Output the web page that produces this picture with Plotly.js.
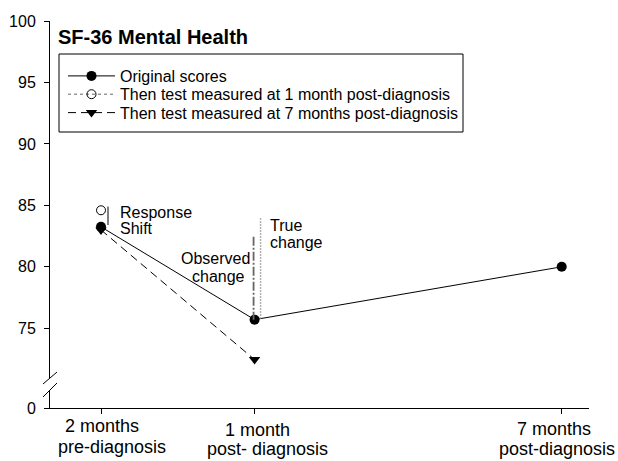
<!DOCTYPE html>
<html><head><meta charset="utf-8">
<script src="https://cdn.plot.ly/plotly-3.0.1.min.js"></script>
<style>html,body{margin:0;padding:0;background:#fff}#chart{width:618px;height:461px}</style>
</head><body><div id="chart"></div>
<script>
// ---- data ----
const timepoints = [-2, 1, 7];
const tickLabelLine1 = ['2 months', '1 month', '7 months'];
const tickLabelLine2 = ['pre-diagnosis', 'post- diagnosis', 'post-diagnosis'];
const originalScores = [83.25, 75.7, 80.0];
const thenTest1X = [-2];
const thenTest1Y = [84.6];
const thenTest7X = [-2, 1];
const thenTest7Y = [83.0, 72.45];
const yTickVals = [75, 80, 85, 90, 95, 100];
const yTickText = ['75', '80', '85', '90', '95', '100'];
const brokenAxisLabel = '0';
const observedChange = [82.45, 75.7];
const trueChange = [83.95, 75.7];
const responseShift = [84.9, 83.4];
const seriesNames = ['Original scores', 'Then test measured at 1 month post-diagnosis', 'Then test measured at 7 months post-diagnosis'];

// ---- layout helpers ----
const FONT = 'Liberation Sans, Arial, Helvetica, sans-serif';
const M = {l: 50, r: 29, t: 21, b: 53};
const PW = 618 - M.l - M.r, PH = 461 - M.t - M.b;
const pxPerUnit = 12.29, pxPerMonth = 51.19;
const yMax = 100, yMin = yMax - PH / pxPerUnit;
const xMin = -2 - 51 / pxPerMonth, xMax = xMin + PW / pxPerMonth;
const px = v => (v - M.l) / PW;
const py = v => (M.t + PH - v) / PH;

const traces = [
  {x: thenTest7X, y: thenTest7Y, name: seriesNames[2], mode: 'lines+markers', legend: 'legend3',
   line: {color: '#000', width: 1, dash: '8px,5px'},
   marker: {symbol: 'triangle-down', size: 10, color: '#000'}},
  {x: thenTest1X, y: thenTest1Y, name: seriesNames[1], mode: 'lines+markers', legend: 'legend2',
   line: {color: '#666', width: 1, dash: 'dot'},
   marker: {symbol: 'circle-open', size: 9, color: '#000', line: {width: 1, color: '#000'}}},
  {x: timepoints, y: originalScores, name: seriesNames[0], mode: 'lines+markers', legend: 'legend',
   line: {color: '#000', width: 1},
   marker: {symbol: 'circle', size: 10, color: '#000'}},
  {x: [timepoints[1] - 1 / pxPerMonth, timepoints[1] - 1 / pxPerMonth], y: observedChange, mode: 'lines', showlegend: false,
   line: {color: '#666', width: 1.8, dash: '9px,2px,2px,2px'}},
  {x: [timepoints[1] + 6 / pxPerMonth, timepoints[1] + 6 / pxPerMonth], y: trueChange, mode: 'lines', showlegend: false,
   line: {color: '#999', width: 1.5, dash: '1.5px,1.5px'}},
  {x: [timepoints[0] + 7 / pxPerMonth, timepoints[0] + 7 / pxPerMonth], y: responseShift, mode: 'lines', showlegend: false,
   line: {color: '#000', width: 1}}
];

const ann = [];
const l1y = [426, 430, 429], l2y = [447, 449, 449];
const l1s = [0.5, 3, -7.5], l2s = [10.5, 12.5, 0];
timepoints.forEach((t, i) => {
  ann.push({x: t, xref: 'x', xshift: l1s[i], y: py(l1y[i]), yref: 'paper', text: tickLabelLine1[i], showarrow: false, xanchor: 'center', yanchor: 'middle', font: {family: FONT, size: 18, color: '#000'}});
  const a2 = {x: t, xref: 'x', xshift: l2s[i], y: py(l2y[i]), yref: 'paper', text: tickLabelLine2[i], showarrow: false, xanchor: 'center', yanchor: 'middle', font: {family: FONT, size: 18, color: '#000'}};
  if (i === timepoints.length - 1) { a2.x = px(617); a2.xref = 'paper'; a2.xanchor = 'right'; a2.xshift = 0; }
  ann.push(a2);
});
const txt = (t, x, y, xa) => ({x: px(x), y: py(y), xref: 'paper', yref: 'paper', text: t, showarrow: false, xanchor: xa, yanchor: 'middle', font: {family: FONT, size: 16, color: '#000'}});
ann.push(txt('Response', 118, 212, 'left'));
ann.push(txt('Shift', 118, 228, 'left'));
ann.push(txt('True', 268, 225, 'left'));
ann.push(txt('change', 268, 242, 'left'));
ann.push(txt('Observed', 252, 258, 'right'));
ann.push(txt('change', 247, 276, 'right'));

const shapes = [
  {type: 'rect', xref: 'paper', yref: 'paper', x0: px(59), x1: px(463), y0: py(132), y1: py(54), line: {color: '#000', width: 1}},
  {type: 'rect', xref: 'paper', yref: 'paper', x0: px(46), x1: px(54), y0: py(390), y1: py(378), fillcolor: '#fff', line: {width: 0}, layer: 'above'},
  {type: 'line', xref: 'paper', yref: 'paper', x0: px(43), y0: py(384), x1: px(57), y1: py(372), line: {color: '#000', width: 1}},
  {type: 'line', xref: 'paper', yref: 'paper', x0: px(43), y0: py(397), x1: px(57), y1: py(383), line: {color: '#000', width: 1}}
];

const legendBase = c => ({x: px(63), y: py(c - 16), xanchor: 'left', yanchor: 'top', itemwidth: 47, borderwidth: 0,
  bgcolor: 'rgba(0,0,0,0)', font: {family: FONT, size: 16, color: '#000'}});

const layout = {
  width: 618, height: 461, margin: M,
  paper_bgcolor: '#fff', plot_bgcolor: '#fff',
  font: {family: FONT, color: '#000'},
  title: {text: '<b>SF-36 Mental Health</b>', font: {family: FONT, size: 20, color: '#000'},
          xref: 'container', x: 58 / 618, xanchor: 'left', y: 1 - 37 / 461, yanchor: 'middle'},
  xaxis: {range: [xMin, xMax], tickvals: timepoints, showticklabels: false, ticks: 'outside', ticklen: 5, tickcolor: '#000',
          showline: true, linecolor: '#000', linewidth: 1, showgrid: false, zeroline: false, fixedrange: true},
  yaxis: {range: [yMin, yMax], tickvals: [yMin].concat(yTickVals), ticktext: [brokenAxisLabel].concat(yTickText),
          ticks: 'outside', ticklen: 5, tickcolor: '#000', ticklabelstandoff: 5, tickfont: {family: FONT, size: 16, color: '#000'},
          showline: true, linecolor: '#000', linewidth: 1, showgrid: false, zeroline: false, fixedrange: true},
  showlegend: true,
  legend: legendBase(75),
  legend2: legendBase(93.3),
  legend3: legendBase(111.7),
  annotations: ann, shapes: shapes
};
Plotly.newPlot('chart', traces, layout, {displayModeBar: false, staticPlot: true});
</script></body></html>
